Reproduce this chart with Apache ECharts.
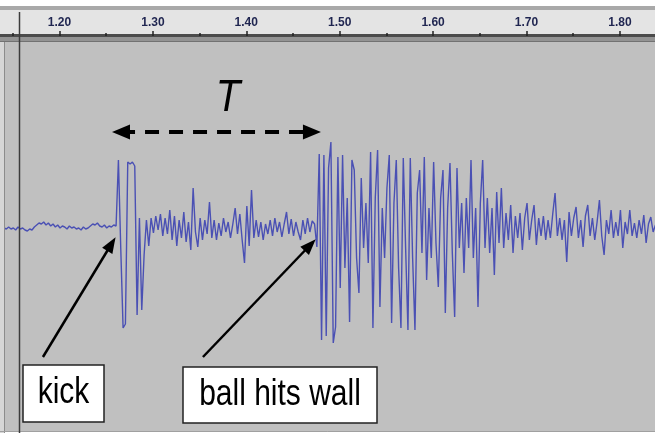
<!DOCTYPE html>
<html>
<head>
<meta charset="utf-8">
<script src="https://cdn.jsdelivr.net/npm/echarts@6/dist/echarts.min.js"></script>
<style>
html, body { margin: 0; padding: 0; background: #fff; }
#wave { width: 655px; height: 433px; }
</style>
</head>
<body>
<div id="wave"></div>
<script>
// sample grid of the recording (seconds)
var t0 = 1.1406;
var dt = 0.0025;

// amplitude, one value per sample
var quiet = [0, -1, 1, -1, 0, -2, 1, -1, 0, -2, -3, -1, -2, 1, 3, 5, 4, 6, 3, 5, 2, 4, 1, 3, 0,
    2, 1, -1, 2, 0, 1, -1, 0, -2, 1, -1, 0, 2, 4, 3, 5, 2, 1, 3, 0, 2, 1, 3, 2];
var kick = [68, -20, -100, -96, 66, 64, 66, 62, -87, 10, -82];
var noise = [-27, 8, -18, 10, -5, 12, -2, 14, -8, 10, -6, 18, -12, 12, -18, 8, -10, 16, -14, 6,
    -22, 40, -4, -19, 10, -12, 8, -6, 26, -10, 8, -12, 5, -8, 10, -4, 6, -10, 4, 20,
    -6, 14, -12, -35, 22, -18, 38, -10, 8, -9, 6, -12, 4, -6, 8, -8, 10, -4, 6, -9,
    4, 16, -6, 9, -8, 6, -4, -12, 8, -6, 10, -4, 7, 4, -19];
var wall = [74, -112, 73, -108, 60, 86, -115, -99, 71, -60, 73, -40, 30, -94, 68, 58, -30, -65, 50, -20,
    25, -35, 76, -100, 30, 78, -79, 20, -30, 40, 73, -95, 25, 68, -40, -100, 70, -20, -102, 70,
    -30, -102, 35, 58, -25, 71, -52, 20, -30, 66, -15, -59, 30, 58, -85, 20, 65, -25, -89, 60,
    -20, 25, -45, 30, -20, 68, -30, 20, -79, 25, 68, -20, 30, -25, 20, -47, 36, -15, 40, -20,
    15, -12, 23, -25, 12, -10, 15, -22, 10, 25, -12, 8, 23, -17, 10, -8, 12, -12, 8, -10,
    14, 35, -8, 10, -12, 8, -34, 16, -8, 10, 21, -10, 8, -19, 12, 23, -8, 10, -12, 6,
    28, -8, -27, 8, -6, 18, -10, 6, -8, 18, -20, 6, -6, 18, -8, 5, -10, 8, -6, 13,
    -15, 4, 11, -4, 3];

var majorTicks = [1.2, 1.3, 1.4, 1.5, 1.6, 1.7, 1.8];
var tickLabels = ['1.20', '1.30', '1.40', '1.50', '1.60', '1.70', '1.80'];
var minorTicks = [1.15, 1.25, 1.35, 1.45, 1.55, 1.65, 1.75];

var amp = quiet.concat(kick, noise, wall);
var wave = amp.map(function (v, i) { return [t0 + i * dt, v]; });

var xMin = 1.1406, xMax = 1.8376;

var dom = document.getElementById("wave");
var myChart = echarts.init(dom, null, { renderer: "canvas" });

var option = {
    animation: false,
    backgroundColor: "#fff",
    grid: {
        left: 4, right: 0, top: 36, bottom: 1,
        show: true, backgroundColor: "#c0c0c0", borderWidth: 0,
        outerBoundsMode: "none"
    },
    xAxis: [{
        type: "value", min: xMin, max: xMax, show: false
    }, {
        type: "value", min: xMin, max: xMax, position: "top", z: 10,
        axisLine: { show: false },
        splitLine: { show: false },
        axisTick: { customValues: majorTicks, length: 5, lineStyle: { color: "#222", width: 1.5 } },
        axisLabel: {
            customValues: majorTicks, margin: 7,
            fontFamily: "Liberation Sans", fontSize: 12, fontWeight: "bold", color: "#1f2550",
            formatter: function (v) {
                var i = majorTicks.findIndex(function (m) { return Math.abs(m - v) < 1e-6; });
                return i < 0 ? "" : tickLabels[i];
            }
        }
    }, {
        type: "value", min: xMin, max: xMax, position: "top", z: 10,
        axisLine: { show: false },
        splitLine: { show: false },
        axisTick: { customValues: minorTicks, length: 3, lineStyle: { color: "#222", width: 1.5 } },
        axisLabel: { show: false }
    }],
    yAxis: { type: "value", min: -204, max: 192, show: false },
    series: [{
        type: "line",
        data: wave,
        showSymbol: false,
        sampling: "none",
        lineStyle: { color: "#4a50b4", width: 1.4 },
        markLine: {
            silent: true,
            animation: false,
            label: { show: false },
            emphasis: { disabled: true },
            data: [
                [{ coord: [1.2659, 96], symbol: "triangle", symbolSize: [15, 18],
                   lineStyle: { color: "#000", width: 4, type: [14, 10] } },
                 { coord: [1.4703, 96], symbol: "triangle", symbolSize: [15, 18] }],
                [{ coord: [1.1823, -129], symbol: "none",
                   lineStyle: { color: "#000", width: 2.5, type: "solid" } },
                 { coord: [1.2556, -16], symbol: "triangle", symbolSize: [12, 16] }],
                [{ coord: [1.3536, -129], symbol: "none",
                   lineStyle: { color: "#000", width: 2.5, type: "solid" } },
                 { coord: [1.4684, -17], symbol: "triangle", symbolSize: [12, 16] }]
            ]
        }
    }],
    graphic: [
        { type: "rect", z: -5, shape: { x: 0, y: 6, width: 655, height: 4 }, style: { fill: "#a9a9a9" } },
        { type: "rect", z: -5, shape: { x: 0, y: 10, width: 655, height: 24 }, style: { fill: "#e4e4e4" } },
        { type: "rect", z: 5, shape: { x: 0, y: 34, width: 655, height: 3 }, style: { fill: "#4b4b4b" } },
        { type: "rect", z: 5, shape: { x: 0, y: 37, width: 655, height: 4 }, style: { fill: "#939393" } },
        { type: "rect", z: 5, shape: { x: 0, y: 41, width: 655, height: 1 }, style: { fill: "#727272" } },
        { type: "rect", z: 5, shape: { x: 0, y: 42, width: 4, height: 391 }, style: { fill: "#d6d6d6" } },
        { type: "line", z: 5, shape: { x1: 4.5, y1: 42, x2: 4.5, y2: 433 }, style: { stroke: "#8c8c8c", lineWidth: 1 } },
        { type: "line", z: 5, shape: { x1: 0, y1: 431.5, x2: 655, y2: 431.5 }, style: { stroke: "#a0a0a0", lineWidth: 1 } },
        { type: "line", z: 6, shape: { x1: 19.5, y1: 12, x2: 19.5, y2: 433 }, style: { stroke: "#3c3c3c", lineWidth: 1.5 } },
        {
            type: "text", z: 20, x: 228, y: 99, scaleY: 1.12,
            style: { text: "T", fontFamily: "Liberation Sans", fontStyle: "italic", fontSize: 40,
                     fill: "#000", align: "center", verticalAlign: "middle" }
        },
        { type: "rect", z: 20, shape: { x: 23, y: 365, width: 81, height: 57 },
          style: { fill: "#fff", stroke: "#222", lineWidth: 1.5 } },
        {
            type: "text", z: 21, x: 63.5, y: 393.5, scaleY: 1.2,
            style: { text: "kick", fontFamily: "Liberation Sans", fontSize: 30,
                     fill: "#000", align: "center", verticalAlign: "middle" }
        },
        { type: "rect", z: 20, shape: { x: 183, y: 367, width: 194, height: 56 },
          style: { fill: "#fff", stroke: "#222", lineWidth: 1.5 } },
        {
            type: "text", z: 21, x: 280, y: 395, scaleY: 1.2,
            style: { text: "ball hits wall", fontFamily: "Liberation Sans", fontSize: 30,
                     fill: "#000", align: "center", verticalAlign: "middle" }
        }
    ]
};
if (option && typeof option === "object") {
    myChart.setOption(option, true);
}
</script>
</body>
</html>
